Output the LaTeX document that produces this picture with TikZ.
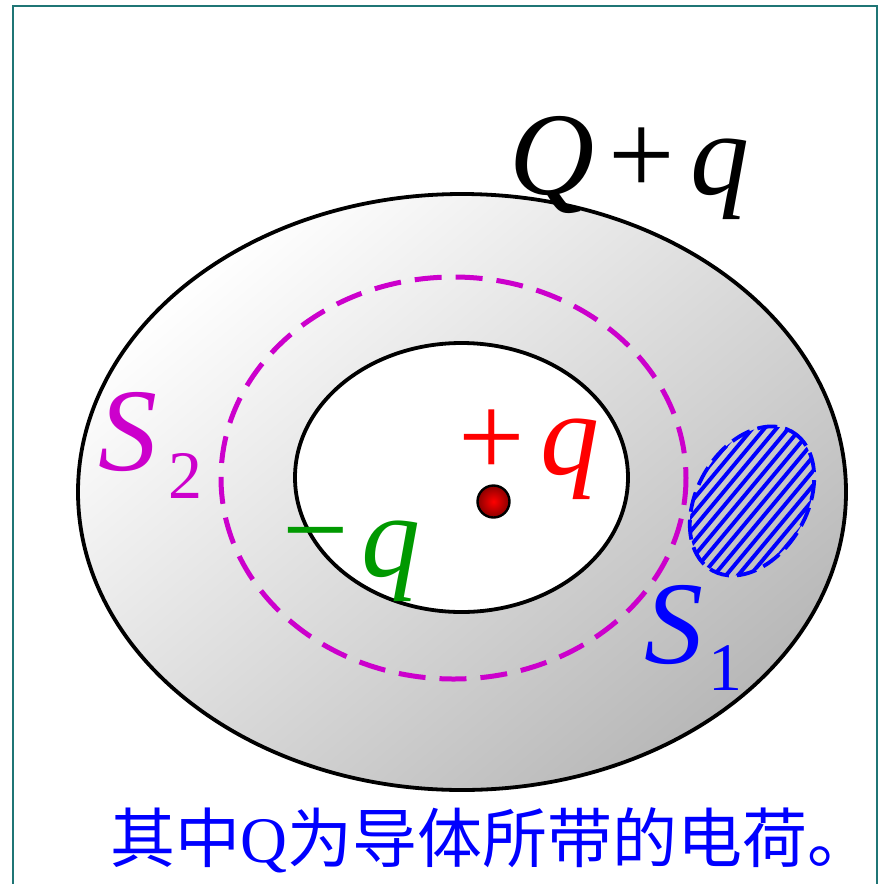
\documentclass[tikz,border=0pt]{standalone}
\usepackage{fontspec}
\setmainfont{Liberation Serif}
\newfontfamily\tms{Liberation Serif}
\newfontfamily\tmsi{Liberation Serif}[UprightFont=*\space Italic]
\newfontfamily\cjk{Noto Sans CJK SC}
\definecolor{frameteal}{HTML}{1F7575}
\definecolor{magS}{HTML}{CC00CC}
\definecolor{grnq}{HTML}{009900}
\definecolor{darkred}{HTML}{8A0000}
\usetikzlibrary{shadings}
\tikzset{
  big/.style={inner sep=0pt, font=\tms\fontsize{118}{118}\selectfont},
  subs/.style={inner sep=0pt, font=\tms\fontsize{68}{68}\selectfont},
  rim/.style={line width=3.8pt, draw=black},
}
\begin{document}
\begin{tikzpicture}[x=1pt,y=-1pt]
\useasboundingbox (0,0) rectangle (881,884);
\fill[white] (0,0) rectangle (881,884);
% frame
\draw[frameteal, line width=2.2pt] (13,900) -- (13,6) -- (877,6) -- (877,900);
% outer conductor
\shade[top color=white, bottom color=black!28, shading angle=40]
  (462,492) ellipse [x radius=384, y radius=298];
\draw[rim] (462,492) ellipse [x radius=384, y radius=298];
% cavity
\fill[white] (461.5,477.5) ellipse [x radius=166.5, y radius=134.5];
\draw[rim] (461.5,477.5) ellipse [x radius=166.5, y radius=134.5];
% Gaussian surface S2
\draw[magS, line width=5pt, dash pattern=on 27pt off 14pt]
  (453.5,478) ellipse [x radius=232.5, y radius=201];
% hatched surface S1
\begin{scope}
  \clip[rotate around={60:(752,501)}] (752,501) ellipse [x radius=80, y radius=55];
  \foreach \i in {-240,-228,...,240} {
    \draw[blue, line width=3.9pt] (752+\i-100,501+120) -- (752+\i+100,501-120);
  }
\end{scope}
\draw[blue, line width=3.8pt, dash pattern=on 20pt off 8pt, rotate around={60:(752,501)}]
  (752,501) ellipse [x radius=80, y radius=55];
% point charge
\shade[inner color=red, outer color=darkred] (493.5,501.5) circle [radius=16];
\draw[black, line width=2.4pt] (493.5,501.5) circle [radius=16];
% labels
\node[big, anchor=base west] (Qq) at (509,194) {\tmsi Q\kern 14pt\tms +\kern 16pt\tmsi q};
\node[big, anchor=base west, magS] (S2) at (98,470) {\tmsi S};
\node[subs, anchor=base west, magS] (S2i) at (168,498) {2};
\node[big, anchor=center, red] (pl) at (492,443) {+};
\node[big, anchor=base west, red] (qp) at (540,474) {\tmsi q};
\node[big, anchor=center, grnq] (mi) at (316,548) {−};
\node[big, anchor=base west, grnq] (qm) at (361,576) {\tmsi q};
\node[big, anchor=base west, blue] (S1) at (644,663) {\tmsi S};
\node[subs, anchor=base west, blue] (S1i) at (708,690) {1};
\node[inner sep=0pt, anchor=base west, blue, font=\fontsize{65}{65}\selectfont] (note) at (110,862)
  {\cjk 其中\tms Q\cjk 为导体所带的电荷。};
\end{tikzpicture}
\end{document}
